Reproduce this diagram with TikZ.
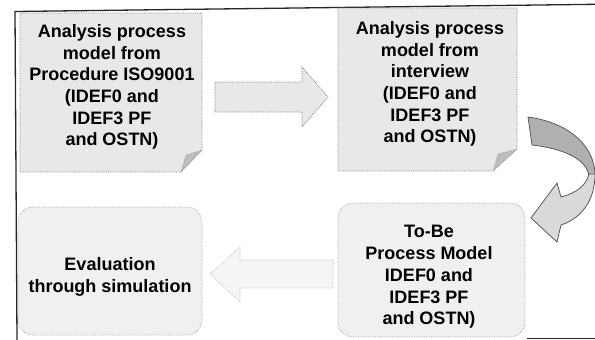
\documentclass[tikz,border=0pt]{standalone}
\usepackage{fontspec}
\setmainfont{Liberation Sans}
\definecolor{boxfill}{HTML}{E8E8E8}
\definecolor{softfill}{HTML}{F0F0F0}
\definecolor{faintfill}{HTML}{F5F5F5}
\definecolor{foldfill}{HTML}{BDBDBD}
\definecolor{bandback}{HTML}{B0B0B0}
\definecolor{bandfront}{HTML}{D9D9D9}
\tikzset{
  frameline/.style={draw=black!85, line width=1.3pt},
  docbox/.style={fill=boxfill, draw=black!50, densely dotted, line width=0.7pt},
  fold/.style={fill=foldfill, draw=black!45, densely dotted, line width=0.5pt},
  softbox/.style={fill=softfill, draw=black!35, densely dotted, line width=0.7pt, rounded corners=15pt},
  blockarrow/.style={fill=boxfill, draw=black!55, densely dotted, line width=0.7pt},
  faintarrow/.style={fill=faintfill, draw=black!30, densely dotted, line width=0.6pt},
  bandbackstyle/.style={fill=bandback, draw=black!70, line width=0.7pt},
  bandfrontstyle/.style={fill=bandfront, draw=black!70, line width=0.7pt},
  label/.style={font=\bfseries\fontsize{18}{21.7}\selectfont, align=center, text=black, inner sep=0pt}
}
\begin{document}
\begin{tikzpicture}[x=1pt, y=-1pt]
\useasboundingbox (0,0) rectangle (595,340);

% page frame (top, left and the piece of the bottom edge)
\coordinate (frameTL) at (15,11.5);
\coordinate (frameTR) at (595,4.3);
\coordinate (frameBL) at (17,340);
\coordinate (frameBR) at (595,338.5);
\coordinate (frameBM) at (527,338.5);
\draw[frameline] (frameTR) -- (frameTL) -- (frameBL);
\draw[frameline] (frameBM) -- (frameBR);

% document with folded corner: ISO9001 analysis
\draw[docbox] (20,13) -- (202,13) -- (202,150) -- (181,172) -- (20,172) -- cycle;
\draw[fold] (202,150) -- (181,172) -- (186,155) -- cycle;
\node[label] (iso) at (112,87) {Analysis process\\model from\\Procedure ISO9001\\(IDEF0 and\\IDEF3 PF\\and OSTN)};

% document with folded corner: interview analysis
\draw[docbox] (338,8) -- (517,8) -- (517,149) -- (493,171) -- (338,171) -- cycle;
\draw[fold] (517,149) -- (493,171) -- (498,154) -- cycle;
\node[label] (interview) at (430,84) {Analysis process\\model from\\interview\\(IDEF0 and\\IDEF3 PF\\and OSTN)};

% rounded boxes of the lower row
\draw[softbox] (338,203) rectangle (525,337);
\node[label] (tobe) at (429,277) {To-Be\\Process Model\\IDEF0 and\\IDEF3 PF\\and OSTN)};

\draw[softbox] (18,207) rectangle (202,335);
\node[label] (eval) at (110,277) {Evaluation\\through simulation};

% block arrow pointing right
\draw[blockarrow] (215,82) -- (302,82) -- (302,67) -- (328,97) -- (302,127) -- (302,112) -- (215,112) -- cycle;

% faint block arrow pointing left
\draw[faintarrow] (333,260) -- (240,260) -- (240,247) -- (210,274) -- (240,302) -- (240,288) -- (333,288) -- cycle;

% curved ribbon arrow turning down and back to the left
\draw[bandbackstyle] (528,117) .. controls (565,122) and (595,143) .. (595,176)
  -- (589,176) .. controls (587,160) and (566,149) .. (532,145) -- cycle;
\draw[bandfrontstyle] (589,174) .. controls (586,186) and (576,193) .. (561,197)
  -- (557,183) -- (531,218) -- (557,242) -- (561,225)
  .. controls (582,218) and (595,200) .. (595,174) -- cycle;
\end{tikzpicture}
\end{document}
